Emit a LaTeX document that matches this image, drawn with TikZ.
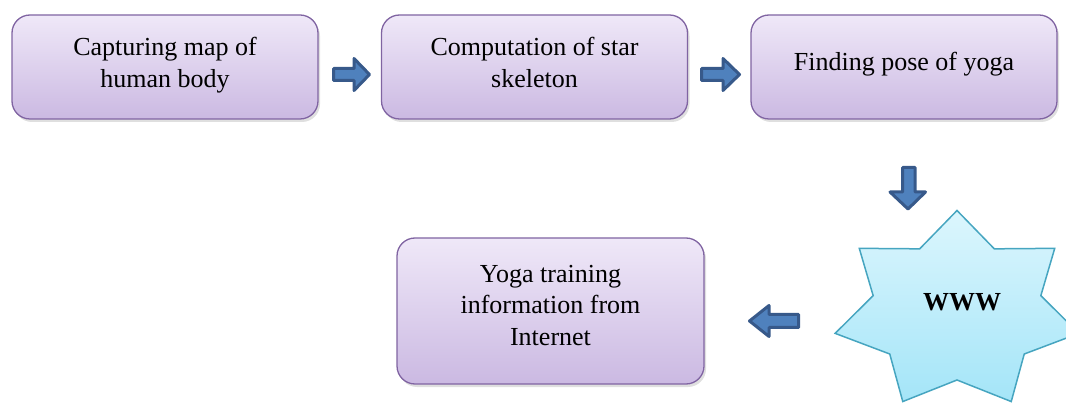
\documentclass[tikz,border=0pt]{standalone}
\usepackage{fontspec}
\setmainfont{Liberation Serif}
\usetikzlibrary{shadows,calc}
\definecolor{boxline}{HTML}{8064A2}
\definecolor{boxtop}{HTML}{EFE8F8}
\definecolor{boxbot}{HTML}{CBB9E2}
\definecolor{arrfill}{HTML}{4F81BD}
\definecolor{arrline}{HTML}{37598A}
\definecolor{starline}{HTML}{46A5C0}
\definecolor{startop}{HTML}{DCF6FD}
\definecolor{starbot}{HTML}{A4E5F8}
\newcommand{\dropby}[1]{\rule[-#1]{0pt}{0pt}}
\begin{document}
\begin{tikzpicture}[x=1pt,y=-1pt,
  box/.style={draw=boxline, line width=1.3pt, rounded corners=18pt,
    top color=boxtop, bottom color=boxbot, minimum width=306pt,
    minimum height=104pt, align=center, inner sep=0pt,
    font=\fontsize{26}{31.5}\selectfont,
    drop shadow={opacity=0.25, shadow xshift=2pt, shadow yshift=-3pt}},
  barrow/.style={draw=arrline, fill=arrfill, line width=3pt, line join=round}]
\useasboundingbox (0,0) rectangle (1066,403);
\clip (0,0) rectangle (1066,403);
% boxes
\node[box] (b1) at (165,67) {Capturing map of\\human body\dropby{9pt}};
\node[box] (b2) at (534.5,67) {Computation of star\\skeleton\dropby{9pt}};
\node[box] (b3) at (904,67) {Finding pose of yoga\dropby{12pt}};
\node[box, minimum width=307pt, minimum height=146pt] (b4) at (550.5,311)
  {Yoga training\\information from\\Internet\dropby{12pt}};
% star
\coordinate (sc) at (957,311);
\shade[draw=starline, line width=1.5pt, top color=startop, bottom color=starbot]
  ($(sc)+(-90:125 and 100.5)$)
  \foreach \k in {0,...,6}{
    -- ($(sc)+({-90+(\k+0.5)*360/7}:86 and 69)$)
    -- ($(sc)+({-90+(\k+1)*360/7}:125 and 100.5)$)
  } -- cycle;
\node[font=\fontsize{26}{31.5}\selectfont\bfseries] (www) at (962,302) {WWW};
% block arrows
\draw[barrow] (333.5,68.5) -- (354,68.5) -- (354,58.5) -- (369.5,74.5)
  -- (354,90.5) -- (354,80.5) -- (333.5,80.5) -- cycle;
\draw[barrow] (701.5,68.5) -- (723,68.5) -- (723,58.5) -- (739.5,74.5)
  -- (723,90.5) -- (723,80.5) -- (701.5,80.5) -- cycle;
\draw[barrow] (902.5,167.5) -- (915,167.5) -- (915,192) -- (925.5,192) -- (908,209)
  -- (890,192) -- (902.5,192) -- cycle;
\draw[barrow] (798.5,314.5) -- (769,314.5) -- (769,305.5) -- (749.5,321)
  -- (769,336.5) -- (769,327.5) -- (798.5,327.5) -- cycle;
\end{tikzpicture}
\end{document}
